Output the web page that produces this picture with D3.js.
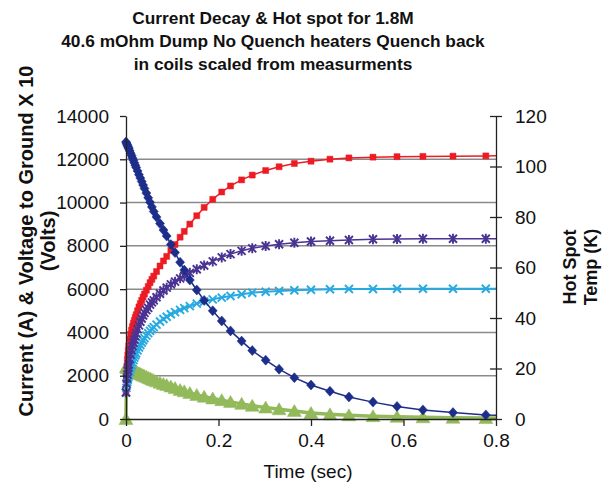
<!DOCTYPE html>
<html>
  <head>
    <meta charset='utf-8'>
    <script src='https://d3js.org/d3.v7.min.js'></script>
    <style>
      body { margin: 0; background: #fff; }
      text { font-family: 'Liberation Sans', Arial, sans-serif; }
    </style>
  </head>
  <body>
    <div id='chart'></div>
    <script>
        // time steps (sec), dense near the dump start
        const time = [0, 0.001, 0.002, 0.003, 0.004, 0.005, 0.006, 0.008, 0.010, 0.012, 0.014, 0.016, 0.018, 0.020,
                      0.022, 0.025, 0.028, 0.031, 0.034, 0.037, 0.040, 0.044, 0.048, 0.052, 0.056, 0.060, 0.066,
                      0.0735, 0.081, 0.088, 0.097, 0.106, 0.117, 0.126, 0.138, 0.153, 0.169, 0.1875, 0.207, 0.226,
                      0.250, 0.273, 0.302, 0.331, 0.364, 0.400, 0.441, 0.482, 0.534, 0.586, 0.642, 0.707, 0.778, 0.855];
        // left axis: current (A)
        const current = [12800, 12750, 12700, 12650, 12600, 12540, 12490, 12390, 12280, 12170, 12060, 11950, 11840, 11730,
                         11620, 11460, 11290, 11130, 10970, 10810, 10650, 10440, 10220, 10010, 9800, 9590, 9330,
                         9030, 8730, 8450, 8060, 7690, 7240, 6880, 6420, 5960, 5480, 5000, 4530, 4070,
                         3600, 3160, 2720, 2300, 1910, 1570, 1280, 1020, 780, 580, 420, 295, 190, 120];
        // left axis: voltage to ground x 10 (V)
        const voltage = [0, 2400, 2390, 2370, 2360, 2350, 2340, 2310, 2290, 2270, 2250, 2230, 2210, 2190,
                         2170, 2140, 2110, 2080, 2050, 2020, 1990, 1950, 1910, 1870, 1830, 1790, 1740,
                         1680, 1620, 1570, 1500, 1430, 1340, 1280, 1200, 1110, 1030, 950, 870, 790,
                         700, 610, 530, 450, 370, 280, 215, 170, 130, 100, 78, 58, 45, 35];
        // right axis: hot spot temperatures (K)
        const hotRed = [10.5, 17, 21, 23.5, 25.3, 27, 29, 31.5, 33.5, 35.2, 36.6, 37.9, 39, 40.2,
                        41.3, 42.9, 44.4, 45.7, 47, 48.3, 49.5, 51, 52.5, 54, 55.3, 56.6, 58.4,
                        60.6, 62.6, 64.4, 66.8, 69.1, 72, 74.3, 77.2, 80.5, 83.8, 87, 89.9, 92.3,
                        94.7, 96.6, 98.4, 99.9, 101.2, 102.1, 102.9, 103.4, 103.7, 103.9, 104.0, 104.1, 104.2, 104.3];
        const hotPurple = [10.5, 14, 16, 17.6, 19.1, 20.4, 21.6, 23.7, 25.5, 27.2, 28.8, 30.2, 31.5, 32.8,
                           34, 35.6, 37.1, 38.5, 39.8, 41.0, 42.0, 43.1, 44.0, 45.3, 46.2, 47.0, 48.2,
                           49.6, 50.9, 52.0, 53.3, 54.4, 55.7, 56.7, 57.9, 59.3, 60.8, 62.4, 64.0, 65.3,
                           66.6, 67.6, 68.5, 69.2, 69.8, 70.3, 70.6, 70.9, 71.2, 71.3, 71.4, 71.4, 71.4, 71.4];
        const hotCyan = [10.5, 12.3, 13.6, 14.7, 15.6, 16.5, 17.3, 18.7, 20, 21.2, 22.3, 23.3, 24.3, 25.2,
                         26, 27.2, 28.3, 29.3, 30.3, 31.2, 32, 33, 34, 34.9, 35.7, 36.4, 37.4,
                         38.6, 39.6, 40.5, 41.5, 42.3, 43.2, 43.9, 44.7, 45.7, 46.5, 47.4, 48.1, 48.7,
                         49.4, 50.0, 50.4, 50.7, 51.0, 51.2, 51.4, 51.5, 51.5, 51.6, 51.6, 51.6, 51.6, 51.6];

        const xTicks = [0, 0.2, 0.4, 0.6, 0.8];
        const leftTicks = [0, 2000, 4000, 6000, 8000, 10000, 12000, 14000];
        const rightTicks = [0, 20, 40, 60, 80, 100, 120];
        const titleLines = ['Current Decay & Hot spot for 1.8M',
                            '40.6 mOhm Dump No Quench heaters Quench back',
                            'in coils scaled from measurments'];

        const svg = d3.select('#chart').append('svg')
                      .attr('width', 606)
                      .attr('height', 487);

        const x = d3.scaleLinear().domain([0, 0.8]).range([126, 496]);
        const yL = d3.scaleLinear().domain([0, 14000]).range([419, 116]);
        const yR = d3.scaleLinear().domain([0, 120]).range([419, 116]);

        // gridlines
        svg.append('g').selectAll('line')
           .data(leftTicks.filter(d => d > 0 && d < 14000))
           .join('line')
           .attr('x1', x(0)).attr('x2', x(0.8))
           .attr('y1', d => yL(d)).attr('y2', d => yL(d))
           .attr('stroke', '#8a8a8a').attr('stroke-width', 1.5);

        svg.append('clipPath').attr('id', 'clip')
           .append('rect').attr('x', 0).attr('y', 0).attr('width', x(0.8)).attr('height', 487);

        const diamond = 'M0,-5L4.5,0L0,5L-4.5,0Z';
        const square = 'M-3,-3H3V3H-3Z';
        const star = 'M-4,-4L4,4M-4,4L4,-4M0,-5V5';
        const cross = 'M-4,-4L4,4M-4,4L4,-4';
        const triangle = 'M0,-6.5L7,5.5L-7,5.5Z';

        const series = [
          { values: voltage, y: yL, color: '#92b95a', width: 3.5, marker: triangle, filled: true },
          { values: hotRed, y: yR, color: '#ec1c24', width: 1.5, marker: square, filled: true },
          { values: hotCyan, y: yR, color: '#27aae1', width: 2, marker: cross, filled: false },
          { values: hotPurple, y: yR, color: '#4a3393', width: 1.5, marker: star, filled: false },
          { values: current, y: yL, color: '#1c2d8a', width: 1.5, marker: diamond, filled: true }
        ];

        const plot = svg.append('g').attr('clip-path', 'url(#clip)');
        series.forEach(s => {
          const pts = time.map((t, i) => [t, s.values[i]]);
          plot.append('path')
              .attr('d', d3.line().x(d => x(d[0])).y(d => s.y(d[1]))(pts))
              .attr('fill', 'none')
              .attr('stroke', s.color)
              .attr('stroke-width', s.width);
          plot.append('g').selectAll('path')
              .data(pts)
              .join('path')
              .attr('transform', d => `translate(${x(d[0])},${s.y(d[1])})`)
              .attr('d', s.marker)
              .attr('fill', s.filled ? s.color : 'none')
              .attr('stroke', s.color)
              .attr('stroke-width', s.filled ? 0.5 : 1.9);
        });

        // axes
        const styleAxis = g => {
          g.attr('font-size', 19).attr('font-family', "'Liberation Sans', Arial, sans-serif");
          g.select('.domain').attr('stroke', '#222').attr('stroke-width', 1.3);
          g.selectAll('.tick line').attr('stroke', '#222').attr('stroke-width', 1.3);
          g.selectAll('.tick text').attr('fill', '#111');
        };

        svg.append('g')
           .attr('transform', 'translate(0,419)')
           .call(d3.axisBottom(x).tickValues(xTicks).tickFormat(d3.format('')).tickSize(7).tickSizeOuter(0).tickPadding(8))
           .call(styleAxis);

        svg.append('g')
           .attr('transform', 'translate(126,0)')
           .call(d3.axisLeft(yL).tickValues(leftTicks).tickFormat(d3.format('d')).tickSize(6).tickSizeOuter(0).tickPadding(11))
           .call(styleAxis);

        const rAxis = svg.append('g')
           .attr('transform', 'translate(496,0)')
           .call(d3.axisRight(yR).tickValues(rightTicks).tickSize(6).tickSizeOuter(0).tickPadding(13))
           .call(styleAxis);
        rAxis.selectAll('.tick line').attr('x1', -6);

        // titles
        svg.append('g').selectAll('text')
           .data(titleLines)
           .join('text')
           .attr('x', 273).attr('y', (d, i) => 24 + i * 23)
           .attr('text-anchor', 'middle')
           .attr('font-size', 17.3).attr('font-weight', 'bold')
           .attr('fill', '#111')
           .text(d => d);

        svg.append('text')
           .attr('x', 308).attr('y', 478)
           .attr('text-anchor', 'middle')
           .attr('font-size', 19).attr('fill', '#111')
           .text('Time (sec)');

        const leftTitle = svg.append('text')
           .attr('transform', 'translate(0,241) rotate(-90)')
           .attr('text-anchor', 'middle')
           .attr('font-size', 20).attr('font-weight', 'bold').attr('fill', '#111');
        leftTitle.append('tspan').attr('x', 0).attr('y', 33).text('Current (A) & Voltage to Ground X 10');
        leftTitle.append('tspan').attr('x', 0).attr('y', 55).text('(Volts)');

        const rightTitle = svg.append('text')
           .attr('transform', 'translate(0,267) rotate(-90)')
           .attr('text-anchor', 'middle')
           .attr('font-size', 18).attr('font-weight', 'bold').attr('fill', '#111');
        rightTitle.append('tspan').attr('x', 0).attr('y', 576).text('Hot Spot');
        rightTitle.append('tspan').attr('x', 0).attr('y', 597).text('Temp (K)');
    </script>
  </body>
</html>
